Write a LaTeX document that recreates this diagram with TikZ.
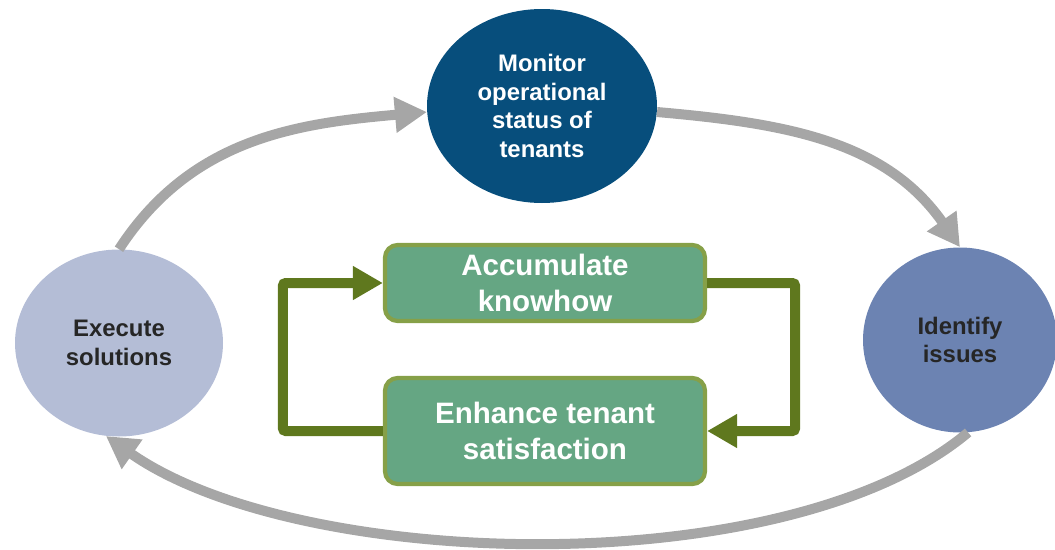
\documentclass[tikz,border=0pt]{standalone}
\usepackage{fontspec}
\setmainfont{Liberation Sans}
\usepackage{xcolor}
\usepackage{tikz}
\usetikzlibrary{arrows.meta, positioning, calc, shapes.geometric}
\definecolor{monitorblue}{RGB}{7, 78, 124}
\definecolor{issueblue}{RGB}{108, 131, 178}
\definecolor{solutionblue}{RGB}{180, 189, 214}
\definecolor{boxgreen}{RGB}{101, 166, 131}
\definecolor{boxrim}{RGB}{134, 160, 72}
\definecolor{loopgreen}{RGB}{95, 120, 30}
\definecolor{cyclegray}{RGB}{166, 166, 166}
\definecolor{labelgray}{RGB}{38, 38, 38}

\begin{document}
\begin{tikzpicture}[
    font=\bfseries,
    phase/.style={ellipse, inner sep=0pt, align=center, text=labelgray,
                  font=\fontsize{17}{20.5}\selectfont\bfseries},
    taskbox/.style={draw=boxrim, line width=3pt, rounded corners=9pt,
                    fill=boxgreen, minimum width=8cm, align=center, text=white,
                    font=\fontsize{21}{25.5}\selectfont\bfseries},
    cyclearrow/.style={-{Triangle[length=0.8cm, width=0.85cm]}, line width=0.25cm,
                       cyclegray},
    looparrow/.style={-{Triangle[length=0.75cm, width=0.8cm]}, line width=0.25cm,
                      loopgreen, rounded corners=2pt}
  ]
    \useasboundingbox (0,0) rectangle (26.375,13.725);
    \node[phase, fill=monitorblue, text=white, minimum width=5.75cm,
          minimum height=4.85cm] (mon) at (13.55,11.075)
      {Monitor\\operational\\status of\\tenants};
    \node[phase, fill=issueblue, minimum width=4.85cm, minimum height=4.625cm]
      (iss) at (24.0,5.225) {Identify\\issues};
    \node[phase, fill=solutionblue, minimum width=5.2cm, minimum height=4.675cm]
      (sol) at (2.975,5.15) {Execute\\solutions};
    \node[taskbox, minimum height=1.9cm] (know) at (13.625,6.65)
      {Accumulate\\knowhow};
    \node[taskbox, minimum height=2.65cm] (sat) at (13.625,2.95)
      {Enhance tenant\\satisfaction};
    \draw[cyclearrow] (sol.north) to[out=57, in=185] (mon.183);
    \draw[cyclearrow] (mon.-3) to[out=-5, in=125] (iss.north);
    \draw[cyclearrow] (iss.-85) to[out=220, in=-35, looseness=0.7] (sol.-98);
    \draw[looparrow] (know.east) -- ++(2.2,0) |- (sat.east);
    \draw[looparrow] (sat.west) -- ++(-2.5,0) |- (know.west);
  \end{tikzpicture}
\end{document}
